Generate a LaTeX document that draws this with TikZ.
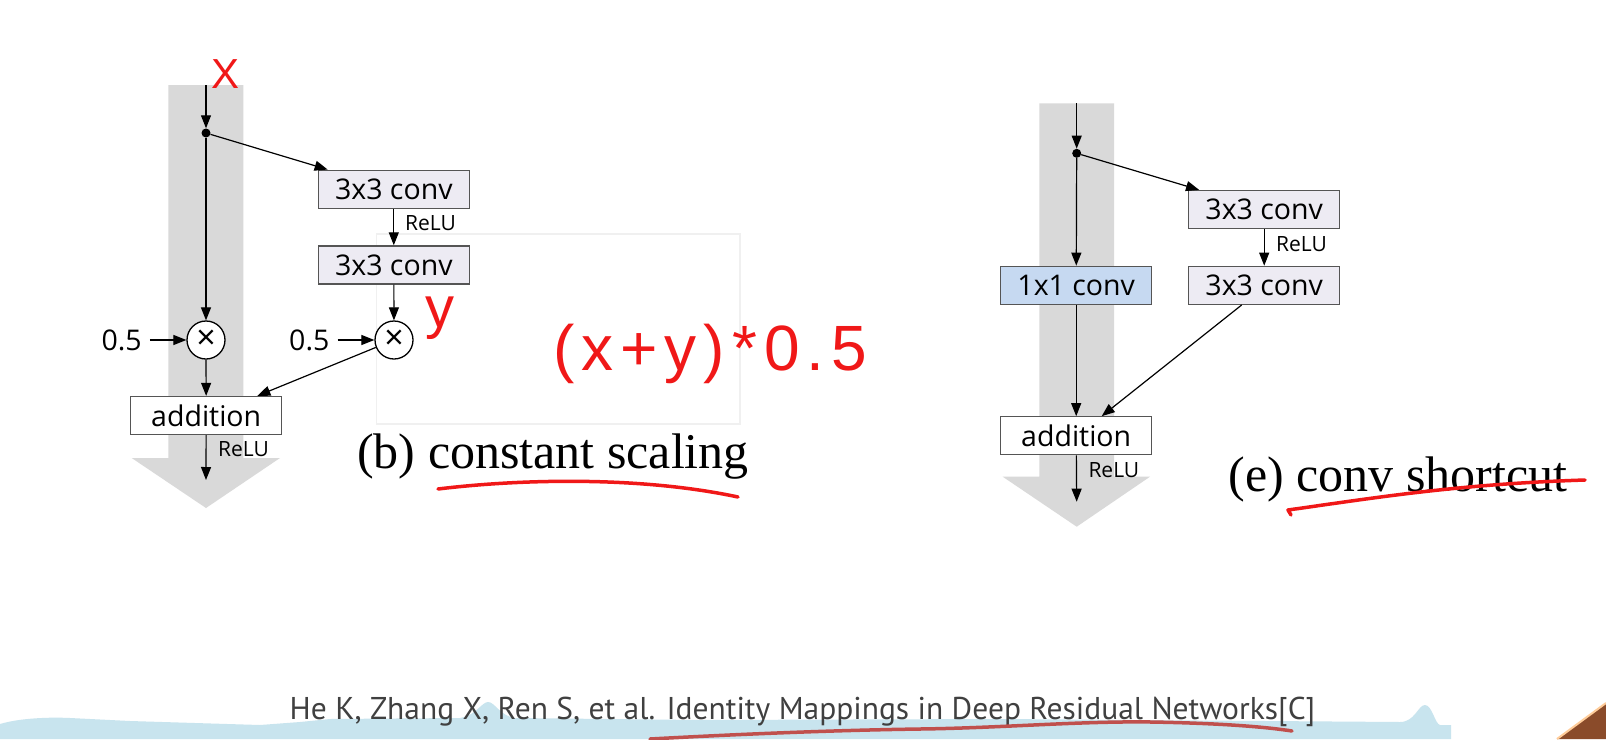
\documentclass[tikz,border=0pt]{standalone}
\usepackage{fontspec}
\setmainfont{Open Sans}
\newfontfamily\capfont{Liberation Serif}
\newfontfamily\handfont[LetterSpace=11]{Liberation Sans}
\newfontfamily\handplain{Liberation Sans}
\newfontfamily\citefont{PT Sans}
\usetikzlibrary{arrows.meta,calc}
\definecolor{bandcol}{HTML}{D9D9D9}
\definecolor{convfill}{HTML}{EDEBF3}
\definecolor{bluefill}{HTML}{C6D9F1}
\definecolor{boxline}{HTML}{555555}
\definecolor{handcol}{HTML}{F01818}
\definecolor{wavecol}{HTML}{C8E4EE}
\definecolor{citeul}{HTML}{C0504D}
\definecolor{citecol}{HTML}{404040}
\definecolor{roofcol}{HTML}{8A4B2A}
\begin{document}
\begin{tikzpicture}[x=1pt,y=-1pt,
  arr/.style={line width=1.2pt,-{Triangle[length=13pt,width=10pt]}},
  box/.style={draw=boxline,line width=1.3pt,minimum width=151pt,minimum height=38pt,inner sep=0pt,font=\fontsize{28.5}{28.5}\selectfont},
  conv/.style={box,fill=convfill},
  convblue/.style={box,fill=bluefill},
  addbox/.style={box,fill=white},
  mult/.style={circle,draw=black,line width=1.3pt,fill=white,minimum size=38pt,inner sep=0pt,font=\fontsize{34}{34}\selectfont},
  dotn/.style={circle,fill=black,minimum size=9pt,inner sep=0pt},
  relu/.style={anchor=west,inner sep=0pt,font=\fontsize{21}{21}\selectfont},
  half/.style={inner xsep=8pt,inner ysep=0pt,font=\fontsize{28.5}{28.5}\selectfont},
  capt/.style={anchor=base west,inner sep=0pt,font=\capfont\fontsize{50}{50}\selectfont},
  hand/.style={text=handcol,inner sep=0pt},
  handline/.style={draw=handcol,line width=3.5pt,line cap=round,line join=round}
]
\useasboundingbox (0,0) rectangle (1606,739);
\fill[white] (0,0) rectangle (1606,739);

% bottom wave strip
\fill[wavecol] (0,739) -- (0,724) .. controls (20,718) and (50,717) .. (70,718) -- (130,721) -- (260,725) -- (300,722) -- (330,719) -- (460,718)
  .. controls (475,716) and (482,702) .. (488,702) .. controls (495,702) and (500,716) .. (515,718) -- (700,720) -- (1000,719) -- (1400,722)
  .. controls (1415,722) and (1418,705) .. (1425,705) .. controls (1432,705) and (1435,724) .. (1440,725) -- (1451,725) -- (1451,739) -- cycle;
\fill[roofcol] (1557,739) -- (1606,703) -- (1606,739) -- cycle;
\draw[line width=2pt,color=orange!40] (1557,739) -- (1606,703);

% grey bands
\fill[bandcol] (168.3,85) -- (243.3,85) -- (243.3,458) -- (280,458) -- (206,508) -- (131.7,458) -- (168.3,458) -- cycle;
\fill[bandcol] (1039.3,103.3) -- (1114,103.3) -- (1114,476.7) -- (1150,476.7) -- (1076.7,526.7) -- (1002.7,476.7) -- (1039.3,476.7) -- cycle;

% white overlay panel
\draw[draw=black!6,line width=1.5pt,fill=white] (376.7,234) rectangle (740,424);

% ---------- (b) constant scaling ----------
\coordinate (btop) at (206,85);
\node[dotn] (bdot) at (206,133) {};
\node[conv] (b1) at (393.8,189.2) {3x3 conv};
\node[conv] (b2) at (393.8,264.9) {3x3 conv};
\node[mult] (bm1) at (206,340) {×};
\node[mult] (bm2) at (394,340) {×};
\node[half] (bh1) at (121.7,340) {0.5};
\node[half] (bh2) at (309.3,340) {0.5};
\node[addbox] (badd) at (206.2,415.5) {addition};
\coordinate (bbot) at (206,480);
\node[relu] (br1) at (405,222.7) {ReLU};
\node[relu] (br2) at (218,449) {ReLU};

\draw[arr] (btop) -- (bdot);
\draw[arr] (bdot) -- ([xshift=10pt]b1.north west);
\draw[arr] (b1) -- (b2);
\draw[arr] (b2) -- (bm2);
\draw[arr] (bdot) -- (bm1);
\draw[arr] (bh1) -- (bm1);
\draw[arr] (bh2) -- (bm2);
\draw[arr] (bm1) -- (badd);
\draw[arr] (bm2) -- ([xshift=-25pt]badd.north east);
\draw[arr] (badd) -- (bbot);

\node[capt] (bcap) at (357,468) {(b) constant scaling};

% ---------- (e) conv shortcut ----------
\coordinate (etop) at (1076.7,103.3);
\node[dotn] (edot) at (1076.7,153.3) {};
\node[conv] (e1) at (1264.2,209.5) {3x3 conv};
\node[conv] (e2) at (1264.2,285.3) {3x3 conv};
\node[convblue] (e11) at (1076.2,285.3) {1x1 conv};
\node[addbox] (eadd) at (1076.2,435.8) {addition};
\coordinate (ebot) at (1076.7,501.7);
\node[relu] (er1) at (1276,244) {ReLU};
\node[relu] (er2) at (1088.3,470) {ReLU};

\draw[arr] (etop) -- (edot);
\draw[arr] (edot) -- ([xshift=11pt]e1.north west);
\draw[arr] (e1) -- (e2);
\draw[arr] (edot) -- (e11);
\draw[arr] (e11) -- (eadd);
\draw[arr] ([xshift=-22.5pt]e2.south) -- ([xshift=25.5pt]eadd.north);
\draw[arr] (eadd) -- (ebot);

\node[capt] (ecap) at (1228.5,491) {(e) conv shortcut};

% ---------- citation ----------
\node[anchor=base,inner sep=0pt,text=citecol,font=\citefont\fontsize{31.5}{31.5}\selectfont] (cite) at (802.5,719)
  {He K, Zhang X, Ren S, et al. Identity Mappings in Deep Residual Networks[C]};
\draw[draw=citeul,line width=3.5pt,line cap=round] (650,739) .. controls (760,733) and (850,730) .. (920,729)
  .. controls (1000,728) and (1080,721) .. (1151,722) .. controls (1210,723) and (1260,726) .. (1292,731);

% ---------- red handwriting ----------
\node[hand,font=\handplain\fontsize{42}{42}\selectfont] (hx) at (226,74) {X};
\node[hand,anchor=base west,font=\handplain\fontsize{58}{58}\selectfont] (hy) at (425,327) {y};
\node[hand,anchor=base west,font=\handfont\fontsize{64}{64}\selectfont] (hexpr) at (553,370) {(x+y)*0.5};
\path[handline] (438,489) .. controls (520,479) and (640,476) .. (738,497);
\path[handline] (1291,515) -- (1288,510) .. controls (1380,497) and (1460,484) .. (1585,480);
\end{tikzpicture}
\end{document}
